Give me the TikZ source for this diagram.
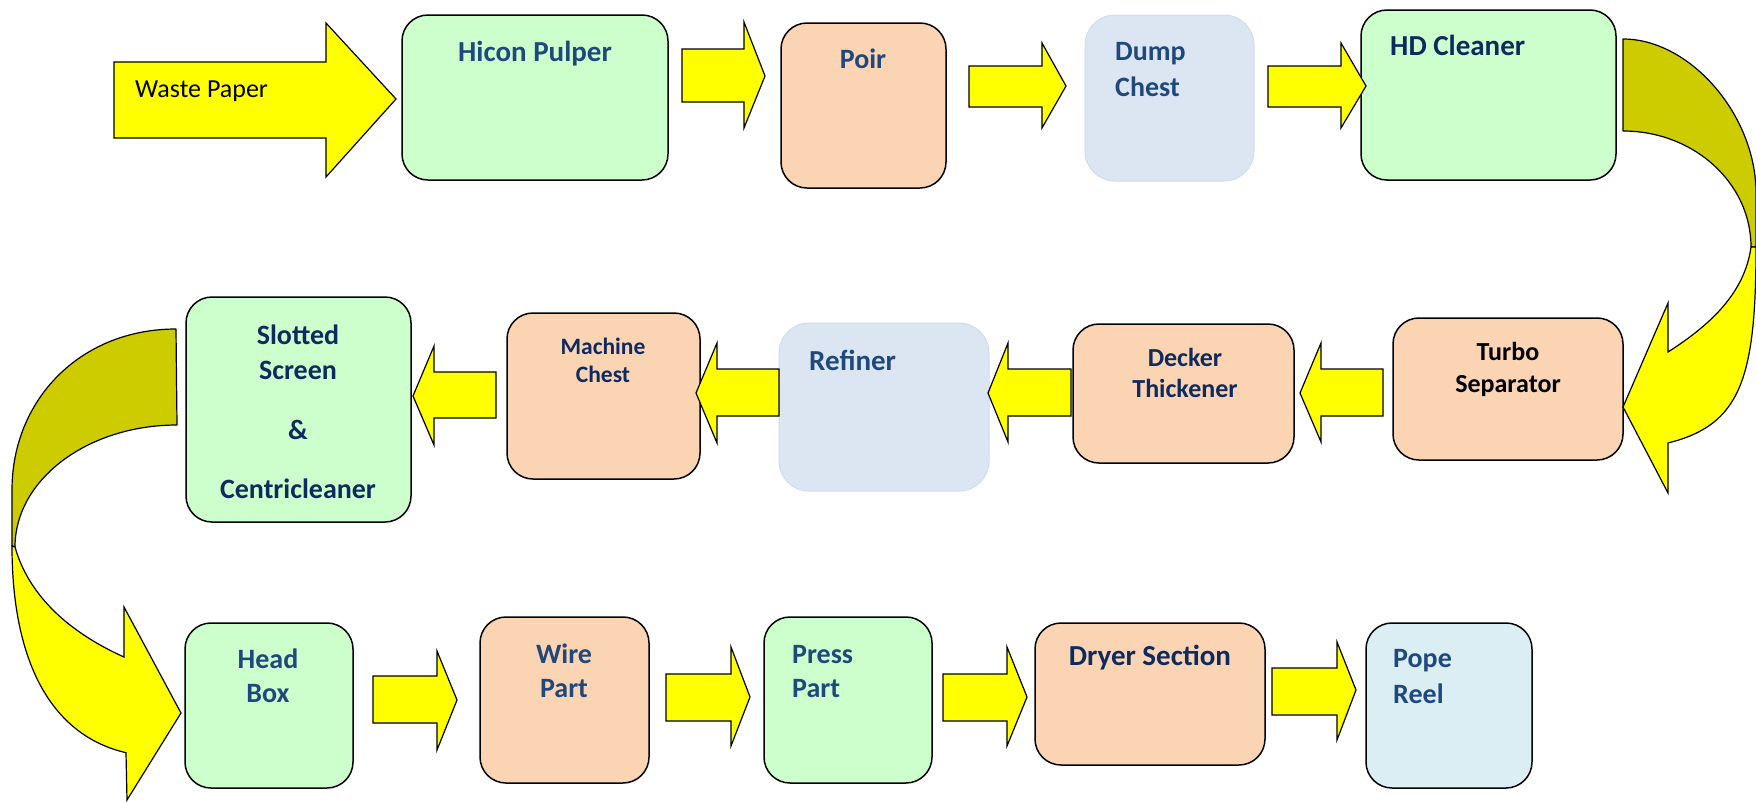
\documentclass[tikz,border=0pt]{standalone}
\usepackage{fontspec}
\setmainfont{Carlito}
\usetikzlibrary{fit}
\definecolor{boxgreen}{HTML}{CCFFCC}
\definecolor{boxpeach}{HTML}{FBD4B4}
\definecolor{boxgrey}{HTML}{DCE6F2}
\definecolor{boxgreyedge}{HTML}{CFDDEE}
\definecolor{boxblue}{HTML}{DAEEF3}
\definecolor{txtblue}{HTML}{1F497D}
\definecolor{txtnavy}{HTML}{0F2A5E}
\definecolor{arrowyellow}{HTML}{FFFF00}
\definecolor{arrowolive}{HTML}{CCCC00}
\tikzset{
  stagebox/.style={draw=black, line width=1.5pt, rounded corners=26pt, inner sep=0pt},
  softbox/.style={draw=boxgreyedge, line width=1pt, fill=boxgrey, rounded corners=30pt, inner sep=0pt},
  blockarrow/.style={draw=black, line width=1.2pt, fill=arrowyellow, line join=miter},
  backband/.style={draw=black, line width=1.2pt, fill=arrowolive, line join=round},
  frontband/.style={draw=black, line width=1.2pt, fill=arrowyellow, line join=miter},
  lblA/.style={font=\bfseries\fontsize{28}{34}\selectfont, text=txtblue, inner sep=0pt},
  lblB/.style={font=\bfseries\fontsize{28}{34}\selectfont, text=txtnavy, inner sep=0pt},
}
% tail x, base x, tip x, shaft top y, shaft bottom y, head top y, head bottom y, tip y
\newcommand{\harrow}[8]{\draw[blockarrow] (#1,#4) -- (#2,#4) -- (#2,#6) -- (#3,#8) -- (#2,#7) -- (#2,#5) -- (#1,#5) -- cycle;}
\begin{document}
\begin{tikzpicture}[x=1pt,y=-1pt]
\useasboundingbox (0,0) rectangle (1756,801);
% ---- boxes ----
\node[stagebox, fill=boxgreen, fit={(402,15) (668,180)}] (hicon) {};
\node[stagebox, fill=boxpeach, fit={(781,23) (946,188)}] (poir) {};
\node[softbox, fit={(1085,15) (1254,181)}] (dump) {};
\node[stagebox, fill=boxgreen, fit={(1361,10) (1616,180)}] (hd) {};
\node[stagebox, fill=boxpeach, fit={(1393,318) (1623,460)}] (turbo) {};
\node[stagebox, fill=boxpeach, fit={(1073,324) (1294,463)}] (decker) {};
\node[softbox, fit={(779,323) (989,491)}] (refiner) {};
\node[stagebox, fill=boxpeach, fit={(507,313) (700,479)}] (machine) {};
\node[stagebox, fill=boxgreen, fit={(186,297) (411,522)}] (slotted) {};
\node[stagebox, fill=boxgreen, fit={(185,623) (353,788)}] (headbox) {};
\node[stagebox, fill=boxpeach, fit={(480,617) (649,783)}] (wire) {};
\node[stagebox, fill=boxgreen, fit={(764,617) (932,783)}] (press) {};
\node[stagebox, fill=boxpeach, fit={(1035,623) (1265,765)}] (dryer) {};
\node[stagebox, fill=boxblue, fit={(1366,623) (1532,788)}] (pope) {};
% ---- straight block arrows ----
\harrow{114}{326}{396}{62}{138}{23}{177}{99}
\harrow{682}{744}{765}{49}{102}{22}{128}{76}
\harrow{969}{1042}{1066}{66}{107}{43}{128}{86}
\harrow{1268}{1341}{1366}{66}{107}{43}{128}{86}
\harrow{1383}{1321}{1300}{369}{416}{343}{442}{393}
\harrow{1071}{1008}{988}{369}{416}{343}{442}{393}
\harrow{779}{717}{696}{369}{416}{343}{443}{393}
\harrow{496}{434}{413}{372}{418}{346}{445}{396}
\harrow{373}{437}{457}{676}{723}{651}{750}{700}
\harrow{666}{731}{750}{674}{721}{647}{746}{697}
\harrow{943}{1007}{1027}{674}{721}{647}{746}{697}
\harrow{1272}{1337}{1356}{668}{715}{642}{740}{690}
% ---- curved arrow on the right ----
\draw[backband] (1623,39) .. controls (1690,39) and (1756,115) .. (1756,193) -- (1756,247)
  -- (1751,247) .. controls (1751,182.9) and (1693.7,131) .. (1623,131) -- cycle;
\draw[frontband] (1751,247) -- (1756,247) .. controls (1756,380) and (1740,425) .. (1668,443)
  -- (1668,493) -- (1623,407) -- (1668,303) -- (1668,352)
  .. controls (1715,322) and (1745,290) .. (1751,247) -- cycle;
% ---- curved arrow on the left ----
\draw[backband] (176,329) .. controls (80,329) and (12,400) .. (12,490) -- (12,546)
  -- (15,547) .. controls (15,479.6) and (87.5,425) .. (177,425) -- cycle;
\draw[frontband] (15,547) -- (12,546) .. controls (12,660) and (50,735) .. (126,752.7)
  -- (127,800) -- (181,713) -- (124,607) -- (124,657)
  .. controls (75,635) and (30,600) .. (15,547) -- cycle;
% ---- texts ----
\node[font=\fontsize{26}{31}\selectfont, inner sep=0pt, anchor=base west] (t-waste) at (135,97) {Waste Paper};
\node[lblA, font=\bfseries\fontsize{29}{34}\selectfont, anchor=base] (t-hicon) at (535,61) {Hicon Pulper};
\node[lblA, anchor=base] (t-poir) at (863,68) {Poir};
\node[lblA, anchor=base west] (t-dump1) at (1115,60) {Dump};
\node[lblA, anchor=base west] (t-dump2) at (1115,96) {Chest};
\node[lblB, font=\bfseries\fontsize{29}{34}\selectfont, anchor=base west] (t-hd) at (1390,55) {HD Cleaner};
\node[lblB, text=black, font=\bfseries\fontsize{26}{31}\selectfont, anchor=base] (t-turbo1) at (1508,360) {Turbo};
\node[lblB, text=black, font=\bfseries\fontsize{26}{31}\selectfont, anchor=base] (t-turbo2) at (1508,392) {Separator};
\node[lblB, font=\bfseries\fontsize{26}{31}\selectfont, anchor=base] (t-decker1) at (1185,366) {Decker};
\node[lblB, font=\bfseries\fontsize{26}{31}\selectfont, anchor=base] (t-decker2) at (1185,397) {Thickener};
\node[lblA, font=\bfseries\fontsize{29}{34}\selectfont, anchor=base west] (t-refiner) at (809,370) {Refiner};
\node[lblB, font=\bfseries\fontsize{23.5}{28}\selectfont, anchor=base] (t-machine1) at (603,354) {Machine};
\node[lblB, font=\bfseries\fontsize{23.5}{28}\selectfont, anchor=base] (t-machine2) at (603,382) {Chest};
\node[lblB, anchor=base] (t-slot1) at (298,344) {Slotted};
\node[lblB, anchor=base] (t-slot2) at (298,379) {Screen};
\node[lblB, anchor=base] (t-slot3) at (298,439) {\&};
\node[lblB, anchor=base] (t-slot4) at (298,498) {Centricleaner};
\node[lblA, anchor=base] (t-head1) at (268,668) {Head};
\node[lblA, anchor=base] (t-head2) at (268,702) {Box};
\node[lblA, anchor=base] (t-wire1) at (564,663) {Wire};
\node[lblA, anchor=base] (t-wire2) at (564,697) {Part};
\node[lblA, anchor=base west] (t-press1) at (792,663) {Press};
\node[lblA, anchor=base west] (t-press2) at (792,697) {Part};
\node[lblB, font=\bfseries\fontsize{29}{34}\selectfont, anchor=base] (t-dryer) at (1150,665) {Dryer Section};
\node[lblA, anchor=base west] (t-pope1) at (1393,667) {Pope};
\node[lblA, anchor=base west] (t-pope2) at (1393,703) {Reel};
\end{tikzpicture}
\end{document}
